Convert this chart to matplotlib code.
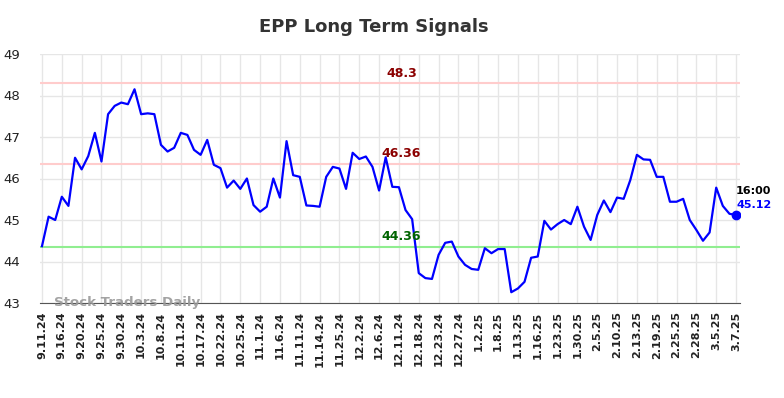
import matplotlib
matplotlib.use("Agg")
import matplotlib.pyplot as plt

title = "EPP Long Term Signals"
tick_labels = ["9.11.24", "9.16.24", "9.20.24", "9.25.24", "9.30.24", "10.3.24", "10.8.24",
               "10.11.24", "10.17.24", "10.22.24", "10.25.24", "11.1.24", "11.6.24", "11.11.24",
               "11.14.24", "11.25.24", "12.2.24", "12.6.24", "12.11.24", "12.18.24", "12.23.24",
               "12.27.24", "1.2.25", "1.8.25", "1.13.25", "1.16.25", "1.23.25", "1.30.25",
               "2.5.25", "2.10.25", "2.13.25", "2.19.25", "2.25.25", "2.28.25", "3.5.25", "3.7.25"]
prices = [44.37, 45.08, 45.00, 45.56, 45.34, 46.50, 46.22, 46.54, 47.10, 46.41,
          47.55, 47.75, 47.83, 47.79, 48.15, 47.55, 47.57, 47.55, 46.81, 46.65,
          46.74, 47.10, 47.05, 46.69, 46.57, 46.93, 46.33, 46.25, 45.78, 45.95,
          45.75, 46.00, 45.36, 45.20, 45.32, 46.00, 45.54, 46.90, 46.08, 46.04,
          45.35, 45.34, 45.32, 46.04, 46.28, 46.24, 45.75, 46.62, 46.47, 46.53,
          46.28, 45.71, 46.51, 45.80, 45.79, 45.24, 45.02, 43.72, 43.60, 43.58,
          44.16, 44.45, 44.48, 44.12, 43.92, 43.82, 43.80, 44.32, 44.20, 44.30,
          44.30, 43.26, 43.35, 43.51, 44.09, 44.12, 44.98, 44.77, 44.90, 45.00,
          44.90, 45.32, 44.84, 44.52, 45.12, 45.47, 45.19, 45.54, 45.51, 45.96,
          46.57, 46.46, 46.45, 46.04, 46.04, 45.44, 45.44, 45.51, 45.00, 44.76,
          44.50, 44.70, 45.78, 45.34, 45.15, 45.12]
upper_level = 48.3
mid_level = 46.36
lower_level = 44.36
last_time = "16:00"
last_value = 45.12
tick_step = 3

fig = plt.figure(figsize=(7.84, 3.98), dpi=100)
ax = fig.add_axes([40/784, 95/398, 700/784, 249/398])

x = list(range(len(prices)))
ax.plot(x, prices, color="#0000ff", lw=1.6, zorder=3)
ax.scatter([x[-1]], [prices[-1]], s=36, color="#0000ff", zorder=4)

ax.axhline(upper_level, color="#ffcccc", lw=1.5, zorder=2)
ax.axhline(mid_level, color="#ffcccc", lw=1.5, zorder=2)
ax.axhline(lower_level, color="#90ee90", lw=1.5, zorder=2)

xmid = 54.4
ax.text(xmid, upper_level + 0.08, f"{upper_level:g}", color="#8b0000", fontsize=9,
        fontweight="bold", ha="center", va="bottom")
ax.text(xmid, mid_level + 0.08, f"{mid_level:g}", color="#8b0000", fontsize=9,
        fontweight="bold", ha="center", va="bottom")
ax.text(xmid, lower_level + 0.08, f"{lower_level:g}", color="#006400", fontsize=9,
        fontweight="bold", ha="center", va="bottom")

ax.text(x[-1], last_value + 0.58, last_time, color="black", fontsize=8,
        fontweight="bold", ha="left", va="center")
ax.text(x[-1], last_value + 0.24, f"{last_value:.2f}", color="#0000ff", fontsize=8,
        fontweight="bold", ha="left", va="center")

ax.text(1.8, 43.0, "Stock Traders Daily", color="#999999", fontsize=9.6,
        fontweight="bold", ha="left", va="center", alpha=0.9, zorder=5)

ax.set_xlim(-0.3, 105.6)
ax.set_ylim(43, 49)
ax.set_yticks(range(43, 50))
ticks = list(range(0, len(prices), tick_step))
ax.set_xticks(ticks)
ax.set_xticklabels(tick_labels, rotation=90, fontsize=8, fontweight="bold", color="#222222")
ax.tick_params(axis="y", labelsize=9.5, colors="#222222", length=0, pad=14)
ax.tick_params(axis="x", length=0, pad=6)
ax.grid(True, color="#e6e6e6", lw=1)
ax.set_axisbelow(True)
for s in ["top", "right", "left"]:
    ax.spines[s].set_visible(False)
ax.spines["bottom"].set_color("#555555")

fig.text(374/784, 1 - 27/398, title, ha="center", va="center", fontsize=13,
         fontweight="bold", color="#333333")

fig.savefig("out.png", dpi=100)
